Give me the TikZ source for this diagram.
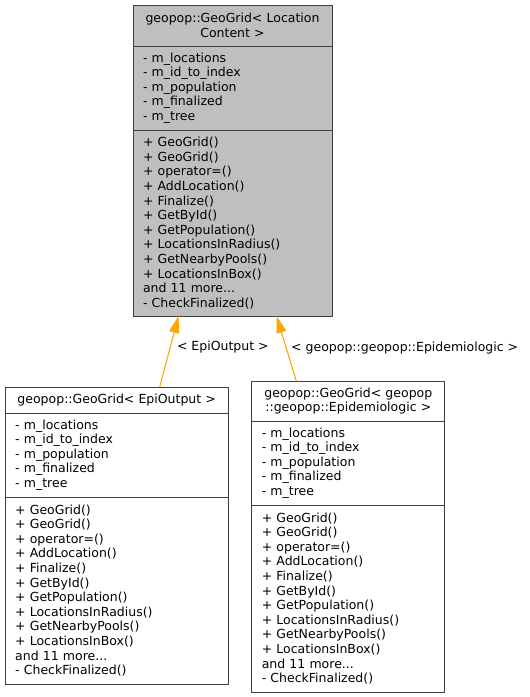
\documentclass[tikz,border=0pt]{standalone}
\usepackage{fontspec}
\setmainfont{DejaVu Sans}
\usepackage{xcolor}
\usetikzlibrary{positioning}
\usetikzlibrary{arrows.meta}
\tikzset{>={Triangle[width=10pt,length=17pt]}}
\definecolor{inheritorange}{HTML}{FFA500}
\definecolor{basegray}{HTML}{BFBFBF}
\definecolor{borderdark}{HTML}{404040}

\begin{document}
\begin{tikzpicture}[x=1pt, y=-1pt, font=\fontsize{12.5}{14.6}\selectfont, part/.style={draw=borderdark, line width=1pt, inner xsep=10pt, inner ysep=0pt, outer sep=0pt, align=left}, titlepart/.style={part, align=center}, basepart/.style={part, fill=basegray, text width=179pt}, basetitlepart/.style={titlepart, fill=basegray, text width=179pt}, inherit/.style={draw=inheritorange, fill=inheritorange, line width=1pt}]
    \useasboundingbox (0,0) rectangle (530,697);

    %Base class
    \node[basetitlepart, minimum height=41pt, anchor=north](basetitle) at (232.5,5){geopop::GeoGrid< Location\\Content >};
    \node[basepart, minimum height=84pt](baseattrs)[below=0pt of basetitle]{- m\_locations\\- m\_id\_to\_index\\- m\_population\\- m\_finalized\\- m\_tree};
    \node[basepart, minimum height=186pt](basemethods)[below=0pt of baseattrs]{+ GeoGrid()\\+ GeoGrid()\\+ operator=()\\+ AddLocation()\\+ Finalize()\\+ GetById()\\+ GetPopulation()\\+ LocationsInRadius()\\+ GetNearbyPools()\\+ LocationsInBox()\\and 11 more...\\- CheckFinalized()};

    %EpiOutput instance
    \node[titlepart, text width=203pt, minimum height=26pt, anchor=north](epititle) at (116.7,387){geopop::GeoGrid< EpiOutput >};
    \node[part, text width=203pt, minimum height=84pt](epiattrs)[below=0pt of epititle]{- m\_locations\\- m\_id\_to\_index\\- m\_population\\- m\_finalized\\- m\_tree};
    \node[part, text width=203pt, minimum height=187pt](epimethods)[below=0pt of epiattrs]{+ GeoGrid()\\+ GeoGrid()\\+ operator=()\\+ AddLocation()\\+ Finalize()\\+ GetById()\\+ GetPopulation()\\+ LocationsInRadius()\\+ GetNearbyPools()\\+ LocationsInBox()\\and 11 more...\\- CheckFinalized()};

    %Epidemiologic instance
    \node[titlepart, text width=173pt, minimum height=40pt, anchor=north](epidtitle) at (348.3,381){geopop::GeoGrid< geopop\\::geopop::Epidemiologic >};
    \node[part, text width=173pt, minimum height=84pt](epidattrs)[below=0pt of epidtitle]{- m\_locations\\- m\_id\_to\_index\\- m\_population\\- m\_finalized\\- m\_tree};
    \node[part, text width=173pt, minimum height=187pt](epidmethods)[below=0pt of epidattrs]{+ GeoGrid()\\+ GeoGrid()\\+ operator=()\\+ AddLocation()\\+ Finalize()\\+ GetById()\\+ GetPopulation()\\+ LocationsInRadius()\\+ GetNearbyPools()\\+ LocationsInBox()\\and 11 more...\\- CheckFinalized()};

    %Lines
    \draw[->, inherit] ([xshift=43pt]epititle.north) -- ([xshift=-54pt]basemethods.south) node[pos=0.56, anchor=west, xshift=3pt, fill=none, text=black]{< EpiOutput >};
    \draw[->, inherit] ([xshift=-52pt]epidtitle.north) -- ([xshift=44pt]basemethods.south) node[midway, anchor=west, xshift=1pt, fill=none, text=black]{< geopop::geopop::Epidemiologic >};

\end{tikzpicture}
\end{document}
